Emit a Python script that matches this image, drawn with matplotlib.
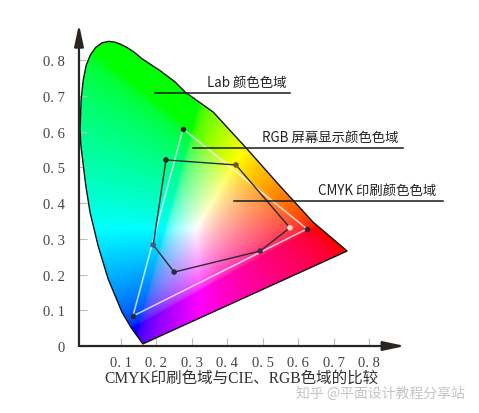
import numpy as np
import matplotlib
matplotlib.use("Agg")
import matplotlib.pyplot as plt
from matplotlib.patches import Polygon

# spectral locus (bottom tip -> left side -> top -> red end)
locus_x = [0.163, 0.132, 0.104, 0.065, 0.037, 0.014, 0.002, -0.006, -0.012, -0.014,
           -0.011, -0.005, 0.003, 0.015, 0.030, 0.048, 0.066, 0.084, 0.100, 0.118,
           0.138, 0.161, 0.210, 0.254, 0.282, 0.361, 0.456, 0.549, 0.642, 0.738]
locus_y = [0.006, 0.048, 0.095, 0.188, 0.280, 0.375, 0.450, 0.515, 0.565, 0.608,
           0.690, 0.745, 0.785, 0.815, 0.836, 0.849, 0.853, 0.851, 0.845, 0.836,
           0.823, 0.804, 0.772, 0.739, 0.711, 0.655, 0.552, 0.448, 0.347, 0.266]

# RGB screen gamut (green, red, blue)
rgb_x = [0.276, 0.625, 0.135]
rgb_y = [0.608, 0.328, 0.084]

# CMYK print gamut
cmyk_x = [0.228, 0.425, 0.577, 0.493, 0.251, 0.192]
cmyk_y = [0.521, 0.507, 0.331, 0.266, 0.207, 0.283]

xticks = [0.1, 0.2, 0.3, 0.4, 0.5, 0.6, 0.7, 0.8]
yticks = [0, 0.1, 0.2, 0.3, 0.4, 0.5, 0.6, 0.7, 0.8]
xtick_labels = ["0. 1", "0. 2", "0. 3", "0. 4", "0. 5", "0. 6", "0. 7", "0. 8"]
ytick_labels = ["0", "0. 1", "0. 2", "0. 3", "0. 4", "0. 5", "0. 6", "0. 7", "0. 8"]

labels = ["Lab 颜色色域", "RGB 屏幕显示颜色色域", "CMYK 印刷颜色色域"]
label_x = [0.344, 0.499, 0.656]
line_y = [0.709, 0.555, 0.406]
line_x0 = [0.197, 0.304, 0.420]
line_x1 = [0.577, 0.896, 1.008]

caption = "CMYK印刷色域与CIE、RGB色域的比较"
watermark = "知乎 @平面设计教程分享站"

cjk = ["Noto Sans CJK SC", "DejaVu Sans"]
serif = ["Liberation Serif", "Noto Sans CJK SC"]

fig = plt.figure(figsize=(4.79, 4.14), dpi=100)
ax = fig.add_axes([0.1649, 0.1618, 0.6806, 0.7850])
ax.set_xlim(-0.017, 0.901)
ax.set_ylim(0, 0.910)

# chromaticity colours, clipped to the locus
gx, gy = np.meshgrid(np.linspace(-0.02, 0.75, 500), np.linspace(0.001, 0.87, 500))
X = gx / gy
Z = (1 - gx - gy) / gy
M = np.array([[3.2406, -1.5372, -0.4986],
              [-0.9689, 1.8758, 0.0415],
              [0.0557, -0.2040, 1.0570]])
rgb = np.stack([M[i, 0] * X + M[i, 1] + M[i, 2] * Z for i in range(3)], axis=-1)
rgb = np.clip(rgb, 0, None)
rgb = rgb / rgb.max(axis=-1, keepdims=True)
rgb = rgb ** (1 / 2.2)
im = ax.imshow(rgb, origin="lower", extent=(-0.02, 0.75, 0.001, 0.87),
               aspect="auto", interpolation="bilinear", zorder=1)
patch = Polygon(np.column_stack([locus_x, locus_y]), closed=True,
                facecolor="none", edgecolor="#111111", lw=1.0, zorder=3)
ax.add_patch(patch)
im.set_clip_path(patch)

# RGB triangle
ax.fill(rgb_x, rgb_y, facecolor="none", edgecolor="white", lw=1.1, alpha=0.75, zorder=4)
ax.scatter(rgb_x, rgb_y, s=9, color="#2a2a2a", zorder=6)

# CMYK hexagon
ax.fill(cmyk_x, cmyk_y, facecolor="none", edgecolor="#2b2b33", lw=1.0, zorder=5)
dot_cols = ["#2a2a2a", "#6a5a20", "#fbd7c8", "#4a2a3a", "#2a2a44", "#4a5a80"]
ax.scatter(cmyk_x, cmyk_y, s=9, color=dot_cols, zorder=6)

# callouts
for lab, tx, ly, x0, x1 in zip(labels, label_x, line_y, line_x0, line_x1):
    ax.plot([x0, x1], [ly, ly], color="#1a1a1a", lw=1.1, zorder=7, clip_on=False)
    ax.text(tx, ly + 0.012, lab, family=cjk, fontsize=9.6, color="#222222",
            ha="left", va="bottom", zorder=8, clip_on=False)

# axes
for s in ax.spines.values():
    s.set_visible(False)
arrow = dict(arrowstyle="-|>,head_length=1.3,head_width=0.28", lw=1.6,
             color="#2a2520", shrinkA=0, shrinkB=0)
ax.annotate("", xy=(1, 0), xytext=(0, 0), xycoords="axes fraction", arrowprops=arrow)
ax.annotate("", xy=(0, 0.99), xytext=(0, 0), xycoords="axes fraction", arrowprops=arrow)

ax.set_xticks(xticks)
ax.set_xticklabels(xtick_labels, family=serif, fontsize=10.5, color="#444444")
ax.set_yticks(yticks)
ax.set_yticklabels(ytick_labels, family=serif, fontsize=10.5, color="#444444")
ax.tick_params(axis="x", direction="in", length=6, color="#bbbbbb", pad=7)
ax.tick_params(axis="y", direction="in", length=6, color="#bbbbbb", pad=10)

fig.text(0.505, 0.085, caption, family=serif, fontsize=11.2, color="#333333",
         ha="center", va="center")
fig.text(0.794, 0.050, watermark, family=cjk, fontsize=10, color="#c4c4c4",
         ha="center", va="center")

fig.savefig("out.png", dpi=100)
